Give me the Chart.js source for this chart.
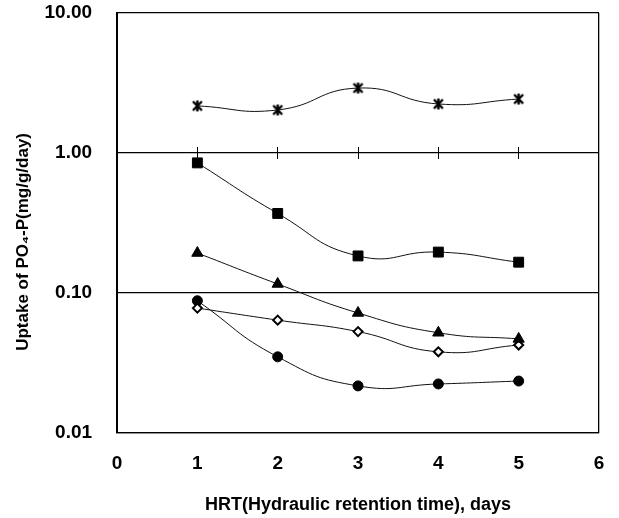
<!DOCTYPE html>
<html>
<head>
<meta charset="utf-8">
<script src="https://cdn.jsdelivr.net/npm/chart.js@4.4.1/dist/chart.umd.min.js"></script>
<style>
  body { margin: 0; background: #fff; }
</style>
</head>
<body>
<canvas id="myChart" width="619" height="518"></canvas>
<script>
// HRT values (days) and uptake of PO4-P (mg/g/day) for each series
const hrtDays = [1, 2, 3, 4, 5];
const starUptake = [2.17, 2.03, 2.91, 2.24, 2.43];
const squareUptake = [0.85, 0.37, 0.184, 0.196, 0.166];
const triangleUptake = [0.193, 0.116, 0.072, 0.052, 0.047];
const diamondUptake = [0.078, 0.064, 0.053, 0.038, 0.0425];
const circleUptake = [0.088, 0.035, 0.0217, 0.0224, 0.0235];

// axis ticks
const yTickValues = [0.01, 0.1, 1, 10];
const xTickMin = 0;
const xTickMax = 6;

const FONT = 'Liberation Sans, Arial, sans-serif';
const CLEAR = 'rgba(0,0,0,0)';

const toPoints = (ys) => hrtDays.map((x, i) => ({ x: x, y: ys[i] }));

// Excel-like asterisk marker (X with a vertical bar)
function makeStarMarker() {
  const c = document.createElement('canvas');
  c.width = 13; c.height = 13;
  const g = c.getContext('2d');
  g.strokeStyle = '#000';
  g.lineWidth = 2.4;
  g.beginPath();
  g.moveTo(2, 2); g.lineTo(11, 11);
  g.moveTo(11, 2); g.lineTo(2, 11);
  g.moveTo(6.5, 1); g.lineTo(6.5, 12);
  g.stroke();
  return c;
}

const lineStyle = {
  borderColor: '#111',
  borderWidth: 1,
  tension: 0.5,
  fill: false
};

// small tick marks on the 1.00 line (one axis pointing down, one up)
const midTickAxis = (len) => ({
  type: 'linear',
  position: { y: 1 },
  min: xTickMin,
  max: xTickMax,
  ticks: { display: false, stepSize: 1 },
  grid: {
    drawOnChartArea: false,
    drawTicks: true,
    tickLength: len,
    tickWidth: 1,
    tickColor: (c) => (c.tick && c.tick.value > xTickMin && c.tick.value < xTickMax) ? '#000' : CLEAR
  },
  border: { display: false }
});

const ctx = document.getElementById('myChart').getContext('2d');
const myChart = new Chart(ctx, {
  type: 'line',
  data: {
    datasets: [
      Object.assign({ label: 'Series 1', data: toPoints(starUptake), pointStyle: makeStarMarker(), pointRadius: 6 }, lineStyle),
      Object.assign({ label: 'Series 2', data: toPoints(squareUptake), pointStyle: 'rect', pointRadius: 7,
        pointBackgroundColor: '#000', pointBorderColor: '#000' }, lineStyle),
      Object.assign({ label: 'Series 3', data: toPoints(triangleUptake), pointStyle: 'triangle', pointRadius: 6.5,
        pointBackgroundColor: '#000', pointBorderColor: '#000' }, lineStyle),
      Object.assign({ label: 'Series 4', data: toPoints(diamondUptake), pointStyle: 'rectRot', pointRadius: 4.5,
        pointBackgroundColor: '#fff', pointBorderColor: '#000', pointBorderWidth: 2 }, lineStyle),
      Object.assign({ label: 'Series 5', data: toPoints(circleUptake), pointStyle: 'circle', pointRadius: 5,
        pointBackgroundColor: '#000', pointBorderColor: '#000' }, lineStyle)
    ]
  },
  options: {
    responsive: false,
    animation: false,
    layout: { padding: { top: 13, right: 20, bottom: 0, left: 0 } },
    plugins: {
      legend: { display: false },
      tooltip: { enabled: false }
    },
    scales: {
      x: {
        type: 'linear',
        position: 'bottom',
        min: xTickMin,
        max: xTickMax,
        ticks: {
          stepSize: 1,
          padding: 2,
          color: '#000',
          font: { family: FONT, size: 19, weight: 'bold' }
        },
        grid: {
          drawTicks: true,
          tickLength: 17.5,
          tickColor: CLEAR,
          lineWidth: 1.3,
          color: (c) => (c.tick && (c.tick.value === xTickMin || c.tick.value === xTickMax)) ? '#000' : CLEAR
        },
        border: { display: true, color: '#000', width: 1.3 },
        title: {
          display: true,
          text: 'HRT(Hydraulic retention time), days',
          color: '#000',
          font: { family: FONT, size: 18, weight: 'bold' },
          padding: { top: 16.9, bottom: 2.2 }
        }
      },
      xTicksDown: midTickAxis(6),
      xTicksUp: midTickAxis(-6),
      y: {
        type: 'logarithmic',
        position: 'left',
        min: 0.01,
        max: 10,
        afterBuildTicks: (scale) => {
          scale.ticks = yTickValues.map((v) => ({ value: v }));
        },
        ticks: {
          padding: 1,
          color: '#000',
          font: { family: FONT, size: 19, weight: 'bold' },
          callback: (v) => Number(v).toFixed(2)
        },
        grid: { drawTicks: true, tickLength: 24, tickColor: CLEAR, color: '#000', lineWidth: 1.3 },
        border: { display: true, color: '#000', width: 2 },
        title: {
          display: true,
          text: 'Uptake of PO\u2084-P(mg/g/day)' + '\u00a0'.repeat(8),
          color: '#000',
          font: { family: FONT, size: 17, weight: 'bold' },
          padding: { top: 12.8, bottom: 10.3 }
        }
      }
    }
  }
});
</script>
</body>
</html>
